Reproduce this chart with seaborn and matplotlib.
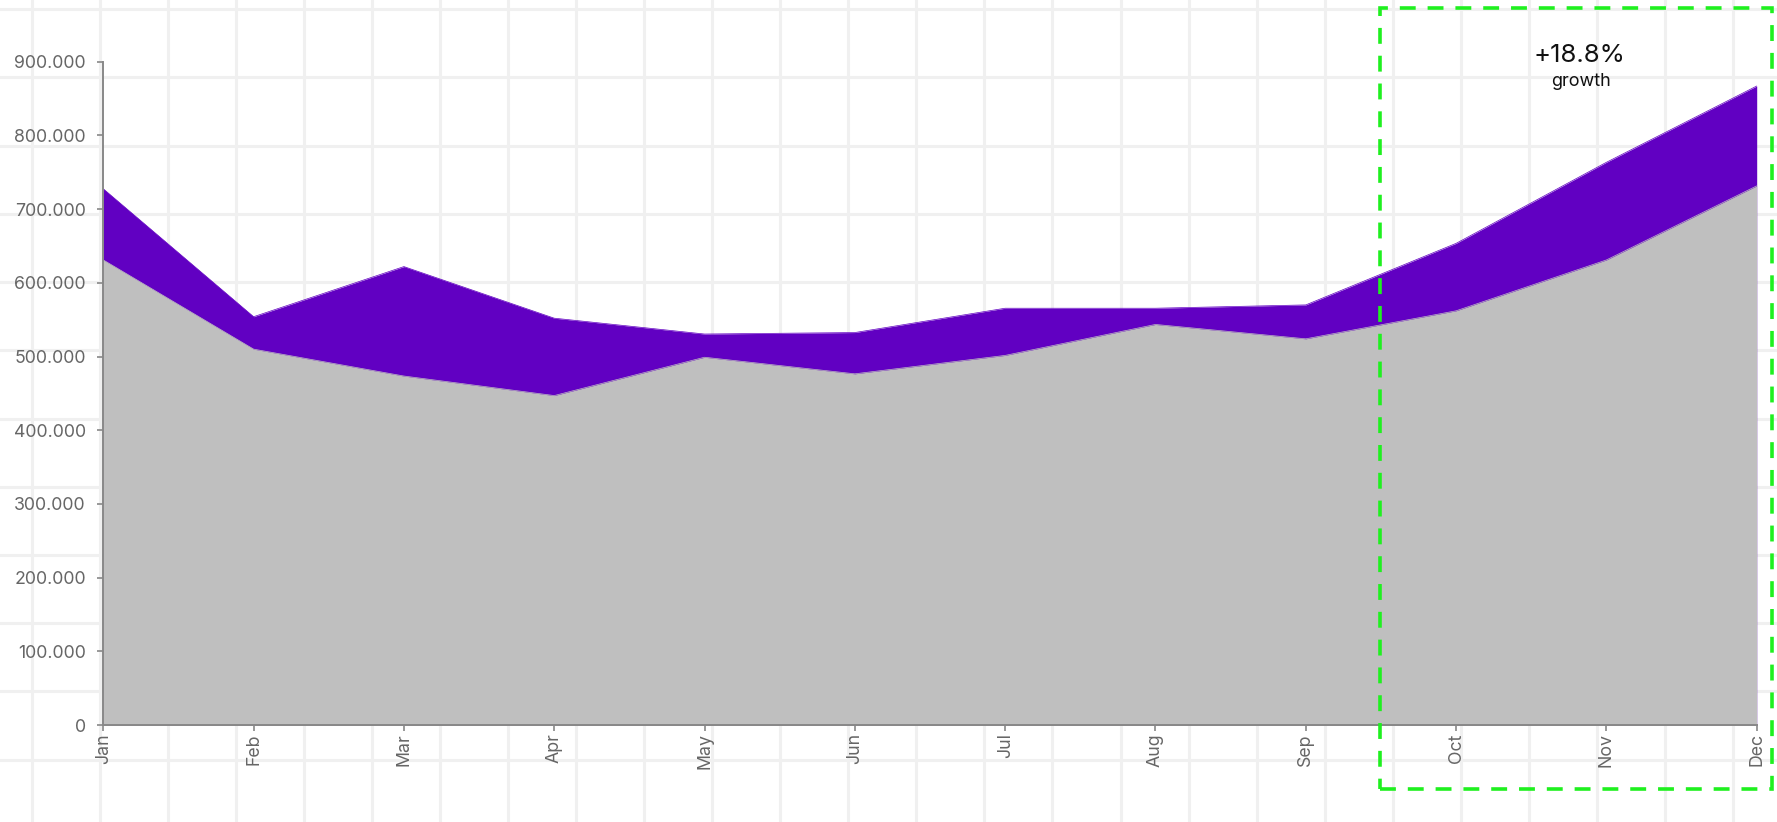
import numpy as np
import pandas as pd
import matplotlib
matplotlib.use("Agg")
import matplotlib.pyplot as plt
from matplotlib.patches import Rectangle
from matplotlib.ticker import FuncFormatter, MultipleLocator
import seaborn as sns

# Monthly values
months = ["Jan", "Feb", "Mar", "Apr", "May", "Jun",
          "Jul", "Aug", "Sep", "Oct", "Nov", "Dec"]
baseline = [631000, 510000, 473500, 447000, 499000, 476500,
            501500, 543500, 524000, 562000, 631000, 731500]
current = [727500, 554000, 622000, 552000, 530500, 532500,
           565500, 565500, 570000, 653500, 763500, 867000]

growth_label = "+18.8%"
growth_caption = "growth"

df = pd.DataFrame({"month": months, "baseline": baseline, "current": current})
df["pos"] = np.arange(len(df))

sns.set_theme(style="white")
plt.rcParams["font.family"] = ["Inter", "DejaVu Sans"]

W, H = 1777, 822
fig = plt.figure(figsize=(W / 100, H / 100), dpi=100)
fig.patch.set_facecolor("white")

# Page background grid
bg = fig.add_axes([0, 0, 1, 1], zorder=0)
bg.set_xlim(0, W)
bg.set_ylim(H, 0)
bg.axis("off")
for gx in np.arange(31.7, W, 68.05):
    bg.axvline(gx, color="#f0f0f0", lw=2.2, zorder=0)
for gy in np.arange(9.3, H, 68.2):
    bg.axhline(gy, color="#f0f0f0", lw=2.2, zorder=0)

# Main chart
left, right = 103.3 / W, 1756.7 / W
bottom, top = (H - 725) / H, (H - 61.7) / H
ax = fig.add_axes([left, bottom, right - left, top - bottom], zorder=1)
ax.patch.set_alpha(0)

purple = "#6100c2"
grey = "#bfbfbf"
ax.fill_between(df["pos"], 0, df["current"], color=purple, lw=0, zorder=2)
ax.fill_between(df["pos"], 0, df["baseline"], color=grey, lw=0, zorder=3)
sns.lineplot(data=df, x="pos", y="current", ax=ax, color=purple, lw=0.5, zorder=2)
sns.lineplot(data=df, x="pos", y="baseline", ax=ax, color=grey, lw=0.5, zorder=3)

ax.set_xlim(0, len(months) - 1)
ax.set_ylim(0, 900000)
ax.set_xticks(df["pos"])
ax.set_xticklabels(months, rotation=90, va="top", ha="center")
ax.yaxis.set_major_locator(MultipleLocator(100000))
ax.yaxis.set_major_formatter(FuncFormatter(lambda v, _: f"{int(round(v)):,}".replace(",", ".")))
ax.set_xlabel("")
ax.set_ylabel("")
ax.grid(False)

for side in ["top", "right"]:
    ax.spines[side].set_visible(False)
for side in ["left", "bottom"]:
    ax.spines[side].set_color("#888888")
    ax.spines[side].set_linewidth(1.4)
    ax.spines[side].set_zorder(5)

ax.tick_params(axis="y", which="major", left=True, length=4.5, width=1.2,
               color="#888888", labelcolor="#666666", labelsize=12.8, pad=8)
ax.tick_params(axis="x", which="major", bottom=True, length=4.5, width=1.2,
               color="#888888", labelcolor="#666666", labelsize=12.8, pad=1.5)

# Highlighted closing quarter
fig.add_artist(Rectangle((1380 / W, (H - 789) / H), (1771.7 - 1380) / W, (789 - 8.3) / H,
                         transform=fig.transFigure, fill=False, edgecolor="#1ff01f",
                         lw=2.6, linestyle=(0, (4.4, 3.3)), zorder=6))
fig.text(1579 / W, (H - 56) / H, growth_label, ha="center", va="center",
         fontsize=18.5, color="#111111", zorder=7)
fig.text(1581 / W, (H - 82) / H, growth_caption, ha="center", va="center",
         fontsize=13, color="#111111", zorder=7)

fig.savefig("out.png", dpi=100)
